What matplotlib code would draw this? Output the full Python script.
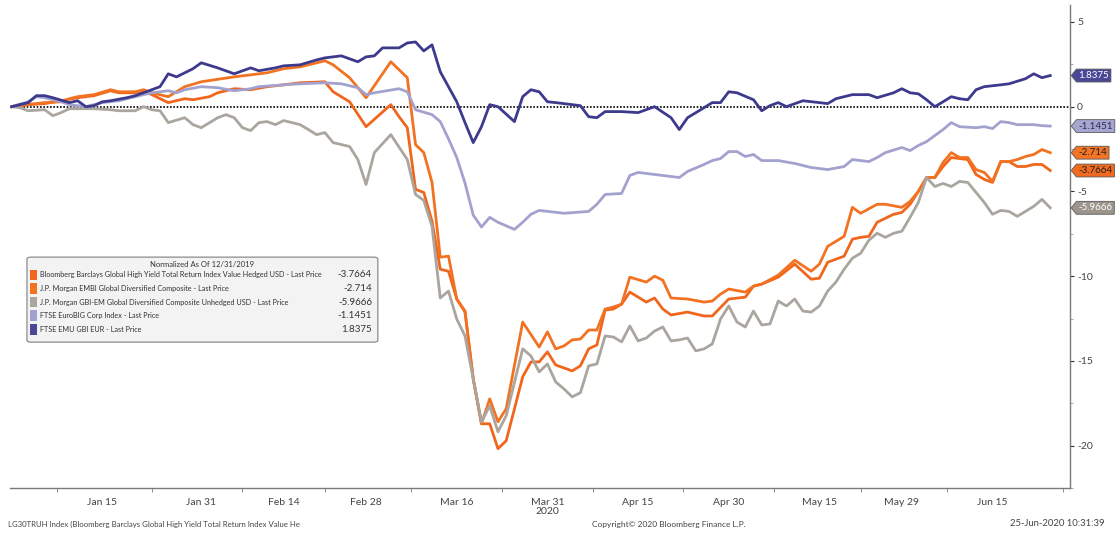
import matplotlib
matplotlib.use("Agg")
import matplotlib.pyplot as plt
import matplotlib.patches as mpatches
from matplotlib import font_manager as fm
from matplotlib.path import Path
from matplotlib.textpath import TextPath
import numpy as np
import pandas as pd

# trading-day axis, normalized to 12/31/2019
START, END = "2019-12-31", "2020-06-24"
TICK_DATES = ["2020-01-15", "2020-01-31", "2020-02-14", "2020-02-28", "2020-03-16", "2020-03-31",
              "2020-04-15", "2020-04-30", "2020-05-15", "2020-05-29", "2020-06-15"]
TICK_LABELS = ["Jan 15", "Jan 31", "Feb 14", "Feb 28", "Mar 16", "Mar 31\n2020",
               "Apr 15", "Apr 30", "May 15", "May 29", "Jun 15"]

NAMES = ["Bloomberg Barclays Global High Yield Total Return Index Value Hedged USD - Last Price",
         "J.P. Morgan EMBI Global Diversified Composite - Last Price",
         "J.P. Morgan GBI-EM Global Diversified Composite Unhedged USD - Last Price",
         "FTSE EuroBIG Corp Index - Last Price",
         "FTSE EMU GBI EUR - Last Price"]
LAST = [-3.7664, -2.714, -5.9666, -1.1451, 1.8375]
LAST_TXT = ["-3.7664", "-2.714", "-5.9666", "-1.1451", "1.8375"]
COLORS = ["#f0661c", "#f27222", "#aaa59e", "#a3a2cf", "#3d3a8e"]
TAG_COLORS = ["#f06a20", "#f27424", "#9c958c", "#a6a5d0", "#4a4796"]
TAG_TEXT = ["#222222", "#222222", "#ffffff", "#2a2a5a", "#ffffff"]

hy_day = [0, 2, 4, 6, 8, 10, 12, 13, 15, 16, 17, 19, 21, 22, 24, 25, 27, 29, 31, 33,
          35, 38, 39, 41, 43, 46, 47, 48, 49, 50, 51, 52, 53, 54, 55, 56, 57, 58, 59, 60,
          62, 63, 64, 65, 66, 68, 69, 70, 71, 72, 73, 74, 75, 77, 78, 79, 80, 82, 84, 85,
          87, 89, 90, 91, 93, 95, 97, 98, 99, 101, 102, 103, 104, 105, 107, 108, 109, 110, 111, 112,
          113, 114, 115, 116, 117, 118, 119, 120, 121, 122, 123, 124, 125, 126]
hy_val = [0, 0.12, 0.18, 0.35, 0.53, 0.65, 0.94, 0.82, 0.82, 0.94, 0.71, 0.24, 0.47, 0.41, 0.59, 0.82, 1.06, 1.0, 1.18, 1.29,
          1.41, 1.47, 0.88, 0.29, -1.18, 0.12, -0.59, -1.24, -4.88, -5.06, -6.76, -9.59, -9.71, -11.35, -12.06, -16.06, -18.71, -18.71, -20.18, -19.71,
          -15.94, -15.06, -15.06, -14.47, -15.24, -15.59, -15.29, -14.29, -14.06, -12.0, -11.94, -11.65, -10.94, -11.53, -11.29, -11.94, -12.29, -12.12, -12.35, -12.35,
          -11.35, -11.24, -10.59, -10.47, -10.06, -9.29, -10.18, -10.12, -9.18, -8.82, -7.82, -7.71, -7.65, -6.82, -6.35, -6.24, -5.76, -5.0, -4.18, -4.18,
          -3.53, -3.0, -3.06, -3.12, -4.0, -4.29, -4.47, -3.24, -3.24, -3.53, -3.53, -3.41, -3.41, -3.7664]

embi_day = [0, 1, 3, 4, 6, 7, 8, 10, 12, 13, 15, 16, 17, 19, 21, 23, 27, 31, 33, 35,
            38, 39, 41, 43, 46, 48, 49, 50, 51, 52, 53, 54, 55, 56, 57, 58, 59, 60, 62, 64,
            65, 66, 67, 68, 69, 70, 71, 72, 73, 74, 75, 77, 78, 79, 80, 82, 84, 85, 86, 87,
            89, 90, 91, 93, 95, 97, 98, 99, 101, 102, 103, 105, 106, 108, 109, 110, 111, 112, 113, 114,
            115, 116, 117, 118, 119, 120, 121, 122, 123, 124, 125, 126]
embi_val = [0, 0.12, 0.18, 0.24, 0.29, 0.47, 0.59, 0.71, 1.0, 0.88, 0.88, 1.0, 0.82, 0.59, 1.18, 1.47, 1.76, 2.0, 2.24, 2.35,
            2.71, 2.47, 1.71, 0.53, 2.65, 1.71, -2.24, -2.71, -4.47, -8.88, -8.82, -11.35, -12.12, -16.06, -18.71, -17.24, -18.59, -17.82, -12.71, -14.18,
            -13.29, -14.29, -14.12, -13.76, -13.71, -13.18, -13.18, -11.94, -11.82, -11.65, -10.06, -10.35, -10.0, -10.24, -11.29, -11.35, -11.53, -11.47, -11.06, -10.76,
            -10.94, -10.59, -10.47, -9.94, -9.06, -9.71, -9.29, -8.24, -7.65, -5.94, -6.29, -5.76, -5.76, -5.94, -5.59, -5.0, -4.18, -4.18, -3.29, -2.71,
            -3.0, -3.0, -3.71, -3.88, -4.41, -3.24, -3.24, -3.12, -2.94, -2.82, -2.53, -2.714]

gbi_day = [0, 1, 2, 4, 5, 6, 7, 9, 10, 12, 13, 15, 16, 17, 18, 19, 21, 22, 23, 25,
           26, 27, 28, 29, 30, 31, 32, 33, 35, 36, 37, 38, 39, 41, 42, 43, 44, 46, 48, 49,
           50, 51, 52, 53, 54, 55, 56, 57, 58, 59, 60, 62, 63, 64, 65, 66, 67, 68, 69, 70,
           71, 72, 73, 74, 75, 76, 77, 78, 79, 80, 81, 82, 83, 84, 85, 86, 87, 88, 89, 90,
           91, 92, 93, 94, 95, 96, 97, 98, 99, 100, 101, 102, 103, 104, 105, 106, 107, 108, 109, 110,
           111, 112, 113, 114, 115, 116, 117, 118, 119, 120, 121, 122, 123, 124, 125, 126]
gbi_val = [0, -0.06, -0.24, -0.18, -0.53, -0.35, -0.12, -0.12, -0.12, -0.18, -0.24, -0.24, 0.0, -0.18, -0.24, -0.94, -0.65, -1.06, -1.24, -0.65,
           -0.47, -0.65, -1.24, -1.41, -0.94, -0.88, -1.06, -0.82, -1.06, -1.35, -1.65, -1.53, -2.12, -2.35, -3.12, -4.59, -2.71, -1.65, -3.12, -5.18,
           -5.53, -7.06, -11.29, -10.88, -12.53, -13.53, -16.06, -18.59, -17.65, -19.18, -18.24, -14.29, -14.71, -15.65, -15.18, -16.24, -16.65, -17.12, -16.88, -15.29,
           -15.18, -13.53, -13.59, -13.88, -12.94, -13.82, -13.65, -13.24, -13.0, -13.82, -13.76, -13.65, -14.41, -14.29, -14.0, -12.53, -11.76, -12.71, -13.0, -12.06,
           -12.88, -12.82, -11.47, -11.76, -11.35, -12.06, -12.12, -11.76, -10.88, -10.35, -9.59, -8.94, -8.65, -7.88, -7.47, -7.71, -7.47, -7.35, -6.53, -5.65,
           -4.18, -4.71, -4.53, -4.71, -4.41, -4.47, -5.06, -5.65, -6.35, -6.12, -6.18, -6.47, -6.18, -5.88, -5.47, -5.9666]

corp_day = [0, 2, 3, 4, 6, 7, 9, 10, 11, 13, 14, 16, 17, 19, 20, 21, 23, 25, 27, 29,
            30, 33, 35, 38, 40, 42, 43, 44, 47, 48, 49, 51, 52, 53, 54, 55, 56, 57, 58, 59,
            61, 62, 63, 64, 67, 70, 71, 72, 74, 75, 76, 78, 80, 81, 82, 84, 85, 86, 87, 88,
            89, 90, 91, 93, 95, 97, 99, 101, 102, 104, 105, 106, 108, 109, 110, 111, 113, 114, 115, 117,
            118, 119, 120, 121, 122, 124, 125, 126]
corp_val = [0, 0.29, 0.59, 0.53, 0.29, 0.12, 0.0, 0.12, 0.24, 0.35, 0.47, 0.71, 0.82, 0.94, 0.82, 1.0, 1.18, 1.12, 0.94, 1.06,
            1.18, 1.29, 1.35, 1.41, 1.35, 1.12, 0.71, 0.82, 1.06, 0.88, -0.18, -0.47, -0.88, -1.9, -3.0, -4.5, -6.4, -7.1, -6.53, -6.82,
            -7.24, -6.82, -6.35, -6.12, -6.29, -6.18, -5.76, -5.18, -5.12, -4.06, -3.88, -4.0, -4.12, -4.18, -3.82, -3.41, -3.18, -3.06, -2.65, -2.65,
            -2.94, -2.82, -3.18, -3.18, -3.35, -3.59, -3.71, -3.53, -3.12, -3.24, -3.0, -2.71, -2.41, -2.59, -2.29, -2.06, -1.35, -0.94, -1.18, -1.24,
            -1.18, -1.29, -0.88, -0.94, -1.06, -1.06, -1.12, -1.1451]

emu_day = [0, 2, 3, 4, 5, 7, 8, 9, 10, 11, 12, 14, 15, 17, 18, 19, 20, 22, 23, 25,
           27, 29, 30, 32, 33, 35, 37, 38, 40, 42, 43, 44, 45, 47, 48, 49, 50, 51, 52, 54,
           55, 56, 57, 58, 59, 61, 62, 63, 64, 65, 66, 68, 69, 70, 71, 72, 74, 76, 78, 80,
           81, 82, 84, 85, 86, 87, 88, 90, 91, 92, 93, 94, 96, 98, 99, 100, 102, 104, 105, 107,
           108, 109, 110, 111, 112, 113, 114, 115, 116, 117, 118, 120, 121, 123, 124, 125, 126]
emu_val = [0, 0.24, 0.65, 0.65, 0.53, 0.24, 0.35, 0.0, 0.06, 0.29, 0.35, 0.53, 0.65, 1.0, 1.18, 1.94, 1.76, 2.24, 2.59, 2.29,
           1.94, 2.29, 2.12, 2.29, 2.41, 2.47, 2.76, 2.88, 3.0, 2.65, 2.94, 3.0, 3.47, 3.47, 3.76, 3.82, 3.29, 3.65, 2.06, 0.29,
           -0.94, -2.12, -1.18, 0.12, 0.0, -0.88, 0.59, 1.0, 0.88, 0.29, 0.24, 0.12, 0.06, -0.59, -0.65, -0.29, -0.29, -0.35, 0.0, -0.65,
           -1.35, -0.65, -0.06, 0.24, 0.24, 0.88, 0.82, 0.41, -0.24, 0.06, 0.24, 0.0, 0.35, 0.24, 0.18, 0.47, 0.71, 0.71, 0.53, 0.82,
           1.06, 0.82, 0.76, 0.41, 0.0, 0.29, 0.59, 0.47, 0.41, 1.0, 1.18, 1.29, 1.35, 1.65, 1.94, 1.71, 1.8375]

SERIES = [(hy_day, hy_val), (embi_day, embi_val), (gbi_day, gbi_val), (corp_day, corp_val), (emu_day, emu_val)]

# Bloomberg uses a narrow face: pick the narrowest installed family
installed = {f.name for f in fm.fontManager.ttflist}
best, best_w = 'DejaVu Sans', None
for fam in ['Liberation Sans Narrow', 'Liberation Sans', 'Noto Sans CJK JP', 'Roboto', 'Lato',
            'Open Sans', 'Inter', 'Noto Sans', 'DejaVu Sans']:
    if fam not in installed:
        continue
    w = TextPath((0, 0), NAMES[0], prop=fm.FontProperties(family=fam, size=10)).get_extents().width
    if best_w is None or w < best_w:
        best, best_w = fam, w
plt.rcParams['font.family'] = [best, 'DejaVu Sans']


def tag_box(x0, y0, width, height, mutation_size):
    # price flag: box with a point on the left
    pad = 0.2 * mutation_size
    x0, y0 = x0 - pad, y0 - pad
    x1, y1 = x0 + width + 2 * pad, y0 + height + 2 * pad
    ym = (y0 + y1) / 2
    tip = x0 - (y1 - y0) * 0.4
    return Path([(tip, ym), (x0, y0), (x1, y0), (x1, y1), (x0, y1), (tip, ym)], closed=True)


def fit_width(txts, target_px, renderer, cap=7.5):
    w = txts[0].get_window_extent(renderer).width
    size = min(cap, txts[0].get_fontsize() * target_px / w)
    for t in txts:
        t.set_fontsize(size)


days = pd.bdate_range(START, END)
tick_pos = days.get_indexer(pd.to_datetime(TICK_DATES))

fig = plt.figure(figsize=(11.2, 5.34), dpi=100)
ax = fig.add_axes([10 / 1120, 46 / 534, 1060 / 1120, 483 / 534])

# draw from the back: GBI-EM, EuroBIG, oranges, EMU
for k in [2, 3, 0, 1, 4]:
    d, v = SERIES[k]
    ax.plot(d, v, color=COLORS[k], lw=2.0, zorder=3 + k)

ax.axhline(0, color='black', lw=1.2, linestyle=(0, (1, 1)), zorder=2)

ax.set_xlim(-0.2, len(days) + 1.4)
ax.set_ylim(-22.4, 6.0)

for s in ['top', 'left']:
    ax.spines[s].set_visible(False)
for s in ['bottom', 'right']:
    ax.spines[s].set_color('#7a7a7a')
    ax.spines[s].set_linewidth(1.0)

ax.set_xticks(tick_pos)
ax.set_xticklabels(TICK_LABELS, fontsize=7.5, color='#444444', linespacing=1.05)
mids = np.concatenate([[tick_pos[0] / 2], (tick_pos[:-1] + tick_pos[1:]) / 2, [tick_pos[-1] + 8.5]])
ax.set_xticks(mids, minor=True)
ax.tick_params(axis='x', which='major', length=0, pad=7)
ax.tick_params(axis='x', which='minor', length=3, color='#7a7a7a')

ax.yaxis.tick_right()
ax.set_yticks([5, 0, -5, -10, -15, -20])
ax.set_yticklabels(["5", "0", "-5", "-10", "-15", "-20"], fontsize=7.5, color='#444444')
ax.set_yticks(np.arange(-22.5, 6, 2.5), minor=True)
ax.tick_params(axis='y', which='major', length=3, color='#333333', pad=2)
ax.tick_params(axis='y', which='minor', length=2, color='#999999')

# last price flags on the right axis
for k in range(5):
    ax.annotate(LAST_TXT[k], xy=(1, LAST[k]), xycoords=ax.get_yaxis_transform(),
                xytext=(6, 0), textcoords='offset points', ha='left', va='center',
                fontsize=7, color=TAG_TEXT[k], annotation_clip=False, zorder=20,
                bbox=dict(boxstyle=tag_box, fc=TAG_COLORS[k], ec='#5a5a5a', lw=0.6))

# legend box
lx0, lx1, ly0, ly1 = 0.016, 0.347, 0.302, 0.478
ax.add_patch(mpatches.FancyBboxPatch((lx0, ly0), lx1 - lx0, ly1 - ly0,
                                     boxstyle='round,pad=0,rounding_size=0.004',
                                     transform=ax.transAxes, fc='#f3f3f3', ec='#8c8c8c', lw=0.9, zorder=15))
title = ax.text((lx0 + lx1) / 2, 0.462, "Normalized As Of 12/31/2019", transform=ax.transAxes,
                ha='center', va='center', fontsize=7, color='#333333', zorder=16)
name_txt, val_txt = [], []
row_y = 0.441
for k in range(5):
    ax.add_patch(mpatches.Rectangle((0.019, row_y - 0.011), 0.0065, 0.022, transform=ax.transAxes,
                                    fc=COLORS[k] if k < 4 else TAG_COLORS[k], ec='none', zorder=16))
    name_txt.append(ax.text(0.028, row_y, NAMES[k], transform=ax.transAxes, ha='left', va='center',
                            fontsize=7, color='#333333', zorder=16))
    val_txt.append(ax.text(0.3415, row_y, LAST_TXT[k], transform=ax.transAxes, ha='right', va='center',
                           fontsize=7, color='#333333', zorder=16))
    row_y -= 0.0281

foot_l = fig.text(8 / 1120, 1 - 524 / 534,
                  "LG30TRUH Index (Bloomberg Barclays Global High Yield Total Return Index Value He",
                  fontsize=7, color='#444444', va='center', ha='left')
foot_c = fig.text(592 / 1120, 1 - 524 / 534, "Copyright\u00a9 2020 Bloomberg Finance L.P.",
                  fontsize=7, color='#444444', va='center', ha='left')
foot_r = fig.text(1105 / 1120, 1 - 524 / 534, "25-Jun-2020 10:31:39",
                  fontsize=7, color='#444444', va='center', ha='right')

# size the texts to the widths they take on the Bloomberg screen
fig.canvas.draw()
rend = fig.canvas.get_renderer()
fit_width(name_txt, 284, rend)
fit_width(val_txt, 44, rend, cap=7)
fit_width([title], 104, rend, cap=7)
fit_width([foot_l], 292, rend, cap=7)
fit_width([foot_c], 153, rend, cap=7)
fit_width([foot_r], 95, rend, cap=7)

fig.savefig("out.png", dpi=100)
